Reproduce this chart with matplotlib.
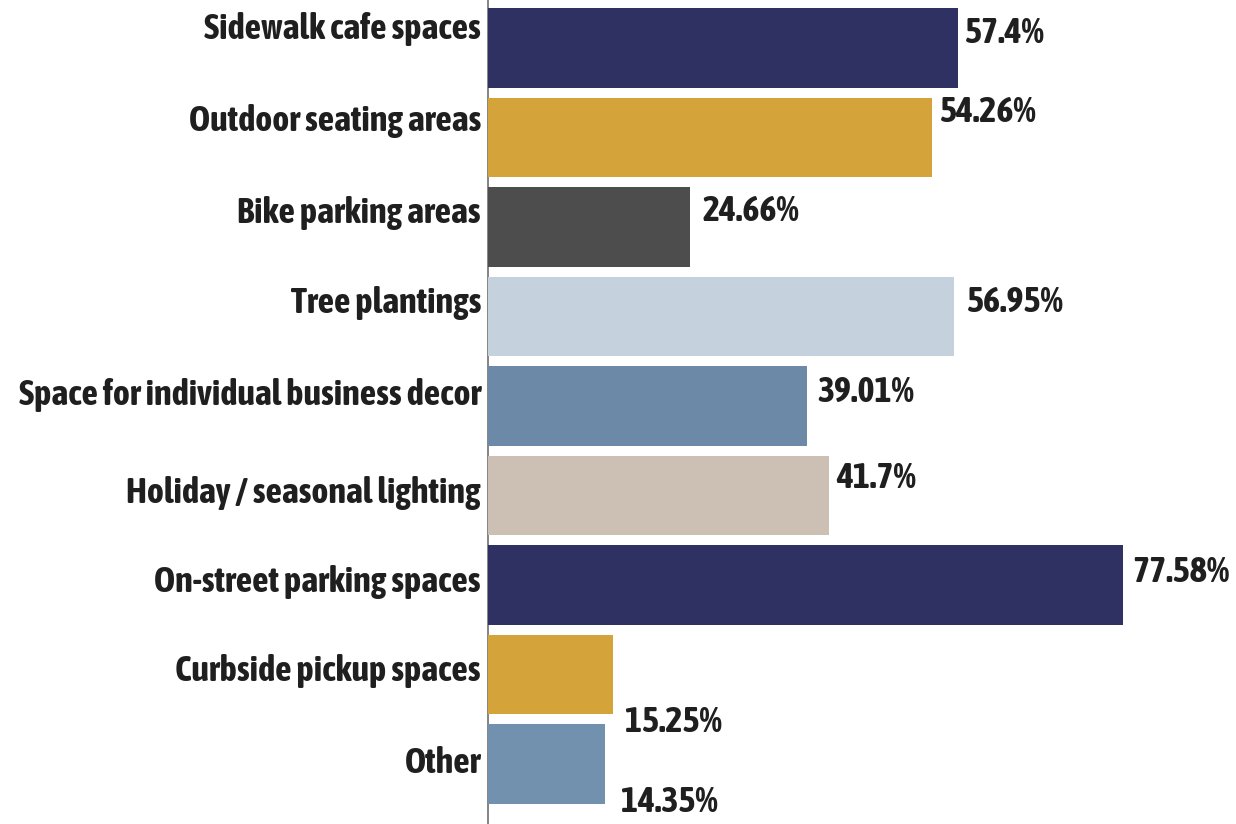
import matplotlib
matplotlib.use("Agg")
import matplotlib.pyplot as plt
from matplotlib import font_manager

categories = ["Sidewalk cafe spaces", "Outdoor seating areas", "Bike parking areas",
              "Tree plantings", "Space for individual business decor",
              "Holiday / seasonal lighting", "On-street parking spaces",
              "Curbside pickup spaces", "Other"]
values = [57.4, 54.26, 24.66, 56.95, 39.01, 41.7, 77.58, 15.25, 14.35]
value_labels = ["57.4%", "54.26%", "24.66%", "56.95%", "39.01%", "41.7%", "77.58%", "15.25%", "14.35%"]
colors = ["#2f3162", "#d4a43a", "#4d4d4d", "#c5d2de", "#6c8aa8",
          "#cbc0b3", "#2f3162", "#d4a43a", "#7291ae"]

# text offsets in pixels (baseline relative to bar centre, upward positive)
cat_dy = [9, 6, 4, 3, 1, -8, -7, -6, -9]
val_dy = [5, 15, 6, 4, 4, 8, 3, -58, -48]
val_dx = [7, 8, 13, 13, 10, 7, 10, 12, 16]

names = {f.name for f in font_manager.fontManager.ttflist}
fam = [f for f in ["Asap Condensed", "Barlow Condensed", "DejaVu Sans"] if f in names][0]

W, H = 1236, 824
fig = plt.figure(figsize=(W / 100, H / 100), dpi=100)
ax = fig.add_axes([488 / W, 0, 1 - 488 / W, 1])

px_per = 8.18
ax.set_xlim(0, (W - 488) / px_per)
pitch = 89.5
ax.set_ylim((H - 48) / pitch, -48 / pitch)

ypos = list(range(len(categories)))
ax.barh(ypos, values, height=0.89, color=colors, linewidth=0, zorder=2)

txt_color = "#1f1f1f"
fs = 26
for y, v, t, dx, dy in zip(ypos, values, value_labels, val_dx, val_dy):
    ax.annotate(t, (v, y), xytext=(dx, dy), textcoords="offset pixels",
                ha="left", va="baseline", fontsize=fs, fontweight="bold",
                family=fam, color=txt_color, annotation_clip=False)

for y, c, dy in zip(ypos, categories, cat_dy):
    ax.annotate(c, (0, y), xytext=(-7, dy), textcoords="offset pixels",
                ha="right", va="baseline", fontsize=fs, fontweight="bold",
                family=fam, color=txt_color, annotation_clip=False)

ax.set_yticks([])
ax.set_xticks([])
for s in ["top", "right", "bottom"]:
    ax.spines[s].set_visible(False)
ax.spines["left"].set_color("#6e6e6e")
ax.spines["left"].set_linewidth(1.2)
ax.spines["left"].set_zorder(1)

fig.savefig("out.png", dpi=100, facecolor="white")
